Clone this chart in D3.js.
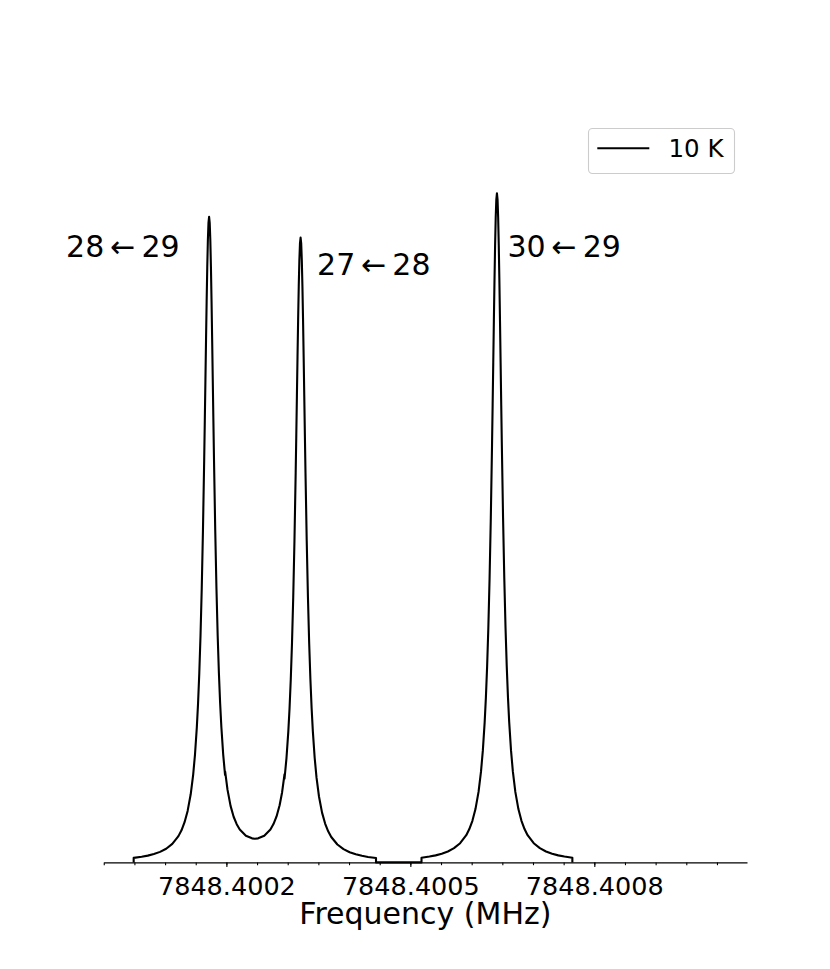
<!DOCTYPE html>
<html><head><meta charset="utf-8">
<script src="https://cdn.jsdelivr.net/npm/d3@7"></script>
<style>body{margin:0;background:#fff}svg{display:block}svg text{font-family:"DejaVu Sans",sans-serif}</style>
</head><body>
<script>
// ---- data ----
const baseMHz = 7848.4;                 // frequency origin, MHz
// frequency offsets from baseMHz, in Hz
const offsetHz = [
  48.8, 48.8, 61.8, 71.8, 81.8, 91.8, 101.8, 111.8, 121.8, 126.8, 131.8, 136.8, 141.8, 145.8, 148.8,
  151.8, 153.8, 155.8, 157.8, 159.8, 161.8, 163.8, 164.8, 165.8, 166.8, 167.8, 168.8, 169.8, 170.8,
  171.8, 172.8, 173.8, 174.8, 175.8, 176.8, 177.8, 178.8, 179.8, 181.8, 183.8, 185.8, 187.8, 189.8,
  191.8, 194.8, 197.8, 198.0, 201.8, 206.8, 211.8, 216.8, 221.8, 231.8, 241.8, 246.4, 251.8, 261.8,
  271.8, 276.8, 281.8, 286.8, 290.8, 294.8, 294.8, 298.0, 301.0, 303.0, 305.0, 307.0, 309.0, 311.0,
  313.0, 314.0, 315.0, 316.0, 317.0, 318.0, 319.0, 320.0, 321.0, 322.0, 323.0, 324.0, 325.0, 326.0,
  327.0, 328.0, 329.0, 331.0, 333.0, 335.0, 337.0, 339.0, 341.0, 344.0, 347.0, 351.0, 356.0, 361.0,
  366.0, 371.0, 381.0, 391.0, 401.0, 411.0, 421.0, 431.0, 444.0, 444.0,
  518.2, 518.2, 531.2, 541.2, 551.2, 561.2, 571.2, 581.2, 591.2, 596.2, 601.2, 606.2, 611.2, 615.2,
  618.2, 621.2, 623.2, 625.2, 627.2, 629.2, 631.2, 633.2, 634.2, 635.2, 636.2, 637.2, 638.2, 639.2,
  640.2, 641.2, 642.2, 643.2, 644.2, 645.2, 646.2, 647.2, 648.2, 649.2, 651.2, 653.2, 655.2, 657.2,
  659.2, 661.2, 664.2, 667.2, 671.2, 676.2, 681.2, 686.2, 691.2, 701.2, 711.2, 721.2, 731.2, 741.2,
  751.2, 764.2, 764.2
];
// intensity (arbitrary units)
const intensity = [
  0, 0.0067, 0.0084, 0.0101, 0.0125, 0.0157, 0.0204, 0.0276, 0.0392, 0.0479, 0.0599, 0.0768, 0.1016, 0.1306, 0.1609,
  0.2019, 0.2375, 0.2822, 0.3382, 0.4085, 0.4958, 0.6007, 0.6588, 0.7190, 0.7794, 0.8368, 0.8877, 0.9280, 0.9540,
  0.9630, 0.9540, 0.9280, 0.8877, 0.8368, 0.7794, 0.7190, 0.6588, 0.6007, 0.4958, 0.4085, 0.3382, 0.2822, 0.2375,
  0.2019, 0.1609, 0.1306, 0.1354, 0.1085, 0.0843, 0.0681, 0.0570, 0.0491, 0.0398, 0.0359, 0.0354, 0.0359, 0.0398,
  0.0492, 0.0572, 0.0686, 0.0852, 0.1043, 0.1315, 0.1248, 0.1557, 0.1954, 0.2299, 0.2731, 0.3273, 0.3954, 0.4798,
  0.5813, 0.6375, 0.6959, 0.7543, 0.8099, 0.8591, 0.8981, 0.9233, 0.9320, 0.9233, 0.8981, 0.8591, 0.8099, 0.7543,
  0.6959, 0.6375, 0.5813, 0.4798, 0.3954, 0.3273, 0.2731, 0.2299, 0.1954, 0.1557, 0.1264, 0.0983, 0.0743, 0.0580,
  0.0464, 0.0379, 0.0267, 0.0198, 0.0152, 0.0121, 0.0098, 0.0081, 0.0065, 0,
  0, 0.0070, 0.0087, 0.0105, 0.0129, 0.0163, 0.0212, 0.0286, 0.0406, 0.0497, 0.0621, 0.0795, 0.1052, 0.1354,
  0.1667, 0.2092, 0.2462, 0.2924, 0.3505, 0.4234, 0.5138, 0.6225, 0.6827, 0.7452, 0.8077, 0.8672, 0.9200, 0.9617,
  0.9887, 0.9980, 0.9887, 0.9617, 0.9200, 0.8672, 0.8077, 0.7452, 0.6827, 0.6225, 0.5138, 0.4234, 0.3505, 0.2924,
  0.2462, 0.2092, 0.1667, 0.1354, 0.1052, 0.0795, 0.0621, 0.0497, 0.0406, 0.0286, 0.0212, 0.0163, 0.0129, 0.0105,
  0.0087, 0.0070, 0
];
const majorTicksMHz = [7848.4002, 7848.4005, 7848.4008];
const tickLabels = ["7848.4002", "7848.4005", "7848.4008"];
const transitionLabels = ["28\u2009\u2190\u200929", "27\u2009\u2190\u200928", "30\u2009\u2190\u200929"];
const seriesName = "10 K";
const xLabel = "Frequency (MHz)";

// ---- layout ----
const W = 830, H = 969;
const plot = {left: 103.75, right: 747, top: 116.3, bottom: 862.4};
// annotation anchors in data coordinates (offset Hz, intensity) + anchor
const labelPos = [
  {hz: -61.4, i: 0.9036, anchor: "start"},
  {hz: 347.9, i: 0.8763, anchor: "start"},
  {hz: 658.3, i: 0.9027, anchor: "start"}
];

const svg = d3.select("body").append("svg").attr("width", W).attr("height", H);

const x = d3.scaleLinear().domain([baseMHz, baseMHz + 1049e-6]).range([plot.left, plot.right]);
const y = d3.scaleLinear().domain([0, 1.113]).range([plot.bottom, plot.top]);

const pts = offsetHz.map((h, k) => [baseMHz + h / 1e6, intensity[k]]);

// spectrum line
svg.append("path").datum(pts)
  .attr("d", d3.line().x(d => x(d[0])).y(d => y(d[1])))
  .attr("fill", "none").attr("stroke", "#000").attr("stroke-width", 2.1)
  .attr("stroke-linejoin", "round");

// minor ticks
const minorTicks = d3.range(0, 21).map(k => baseMHz + k * 0.00005);
const gMinor = svg.append("g").attr("transform", `translate(0,${plot.bottom})`)
  .call(d3.axisBottom(x).tickValues(minorTicks).tickSize(2.8).tickSizeOuter(0).tickFormat(""));
gMinor.select(".domain").remove();
gMinor.selectAll("line").attr("stroke", "#000").attr("stroke-width", 1.1);

// major ticks + spine
const gMajor = svg.append("g").attr("transform", `translate(0,${plot.bottom})`)
  .call(d3.axisBottom(x).tickValues(majorTicksMHz).tickSize(4.7).tickSizeOuter(0)
    .tickFormat((d, i) => tickLabels[i]));
gMajor.attr("font-family", null).attr("font-size", null);
gMajor.select(".domain").attr("stroke", "#000").attr("stroke-width", 1.1);
gMajor.selectAll("line").attr("stroke", "#000").attr("stroke-width", 1.1);
gMajor.selectAll("text").attr("y", 32.9).attr("dy", 0)
  .style("font-size", "25.5px").attr("fill", "#000");

// x label
svg.append("text").attr("x", (plot.left + plot.right) / 2).attr("y", 924)
  .attr("text-anchor", "middle").style("font-size", "30px").text(xLabel);

// transition annotations
svg.selectAll("text.ann").data(transitionLabels).join("text").attr("class", "ann")
  .attr("x", (d, i) => x(baseMHz + labelPos[i].hz / 1e6))
  .attr("y", (d, i) => y(labelPos[i].i))
  .attr("text-anchor", (d, i) => labelPos[i].anchor)
  .style("font-size", "30px").text(d => d);

// legend
const lg = svg.append("g");
lg.append("rect").attr("x", 588.5).attr("y", 128.5).attr("width", 146).attr("height", 45)
  .attr("rx", 4).attr("fill", "#fff").attr("fill-opacity", 0.8)
  .attr("stroke", "#cccccc").attr("stroke-width", 1.1);
lg.append("line").attr("x1", 597.3).attr("x2", 649.3).attr("y1", 148.3).attr("y2", 148.3)
  .attr("stroke", "#000").attr("stroke-width", 2.1);
lg.append("text").attr("x", 668.5).attr("y", 156.7).style("font-size", "24.5px").text(seriesName);
</script>
</body></html>
